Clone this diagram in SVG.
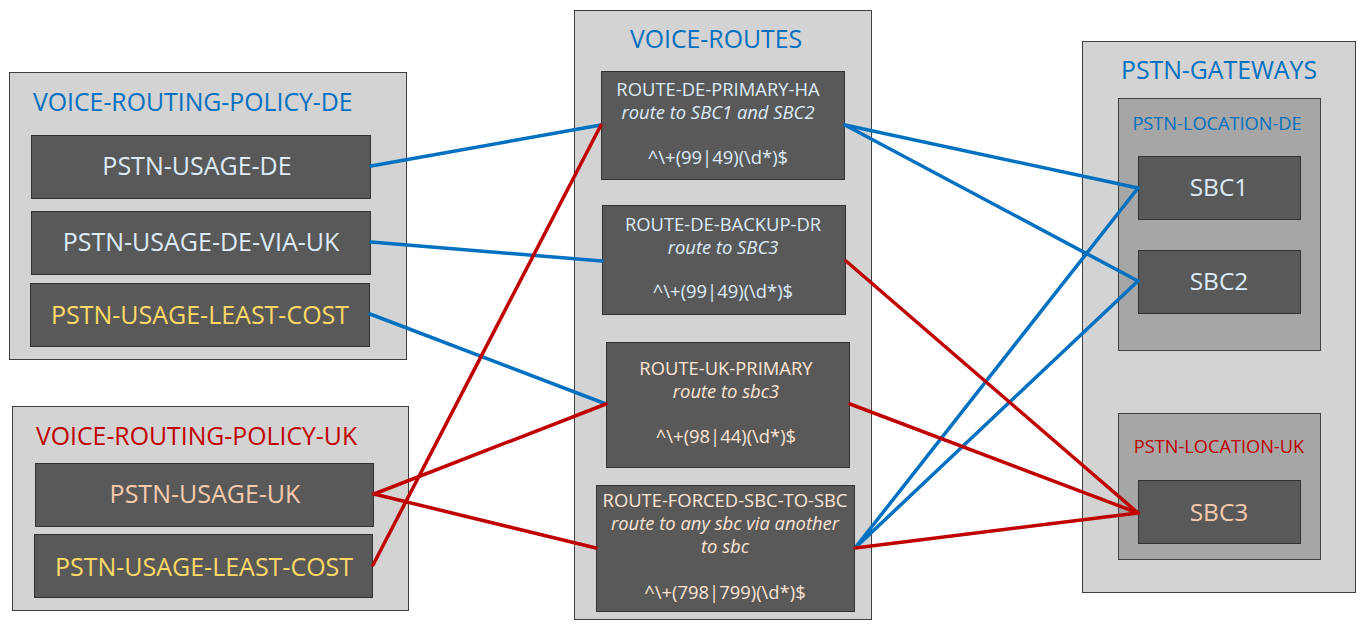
<svg xmlns="http://www.w3.org/2000/svg" width="1368" height="631" viewBox="0 0 1368 631">
<style>
.bg{fill:#ffffff}
.cont{fill:#d3d3d3;stroke:#3f3f3f;stroke-width:1}
.loc{fill:#a6a6a6;stroke:#3f3f3f;stroke-width:1}
.node{fill:#595959;stroke:#333333;stroke-width:1}
text{font-family:"Open Sans","Segoe UI","Noto Sans",sans-serif}
.t24{font-size:25px}
.sbc{font-size:24.5px}
.title{font-size:24.8px}
.rt{font-size:18.4px}
.it{font-style:italic}
.lbl{font-size:18.2px}
.blue{fill:#0070c0}
.red{fill:#c00000}
.lb{fill:#deebf7}
.yl{fill:#ffd966}
.pc{fill:#f8cbad}
.wp{fill:#fbe5d6}
.mid{text-anchor:middle}
.cb{stroke:#0070c0;stroke-width:3.5;fill:none;stroke-linecap:round}
.cr{stroke:#c00000;stroke-width:3.5;fill:none;stroke-linecap:round}
</style>
<rect class="bg" x="0" y="0" width="1368" height="631"/>

<g id="voice-routing-policy-de">
<rect class="cont" x="9.5" y="72.5" width="397" height="287"/>
<text class="title blue" x="33" y="111">VOICE-ROUTING-POLICY-DE</text>
</g>
<g id="pstn-usage-de">
<rect class="node" x="31.5" y="135.5" width="339" height="63"/>
<text class="t24 lb mid" x="197" y="175">PSTN-USAGE-DE</text>
</g>
<g id="pstn-usage-de-via-uk">
<rect class="node" x="31.5" y="211.5" width="339" height="63"/>
<text class="t24 lb mid" x="201" y="251">PSTN-USAGE-DE-VIA-UK</text>
</g>
<g id="pstn-usage-least-cost-de">
<rect class="node" x="30.5" y="283.5" width="339" height="63"/>
<text class="t24 yl mid" x="200" y="324">PSTN-USAGE-LEAST-COST</text>
</g>

<g id="voice-routing-policy-uk">
<rect class="cont" x="12.5" y="406.5" width="396" height="204"/>
<text class="title red" x="36" y="445">VOICE-ROUTING-POLICY-UK</text>
</g>
<g id="pstn-usage-uk">
<rect class="node" x="35.5" y="463.5" width="338" height="63"/>
<text class="t24 pc mid" x="205" y="503">PSTN-USAGE-UK</text>
</g>
<g id="pstn-usage-least-cost-uk">
<rect class="node" x="34.5" y="534.5" width="338" height="63"/>
<text class="t24 yl mid" x="204" y="576">PSTN-USAGE-LEAST-COST</text>
</g>

<g id="voice-routes">
<rect class="cont" x="574.5" y="10.5" width="297" height="609"/>
<text class="title blue mid" x="716" y="48">VOICE-ROUTES</text>
</g>
<g id="route-de-primary-ha">
<rect class="node" x="601.5" y="71.5" width="243" height="108"/>
<text class="rt lb mid" x="718" y="96">ROUTE-DE-PRIMARY-HA</text>
<text class="rt it lb mid" x="718" y="119">route to SBC1 and SBC2</text>
<text class="rt lb mid" x="718" y="164">^\+(99|49)(\d*)$</text>
</g>
<g id="route-de-backup-dr">
<rect class="node" x="602.5" y="205.5" width="243" height="109"/>
<text class="rt lb mid" x="723" y="231">ROUTE-DE-BACKUP-DR</text>
<text class="rt it lb mid" x="723" y="254">route to SBC3</text>
<text class="rt lb mid" x="723" y="298">^\+(99|49)(\d*)$</text>
</g>
<g id="route-uk-primary">
<rect class="node" x="606.5" y="342.5" width="243" height="125"/>
<text class="rt wp mid" x="726" y="375">ROUTE-UK-PRIMARY</text>
<text class="rt it wp mid" x="726" y="398">route to sbc3</text>
<text class="rt wp mid" x="726" y="443">^\+(98|44)(\d*)$</text>
</g>
<g id="route-forced-sbc-to-sbc">
<rect class="node" x="596.5" y="485.5" width="258" height="126"/>
<text class="rt wp mid" x="725" y="507">ROUTE-FORCED-SBC-TO-SBC</text>
<text class="rt it wp mid" x="725" y="530">route to any sbc via another</text>
<text class="rt it wp mid" x="725" y="553">to sbc</text>
<text class="rt wp mid" x="725" y="599">^\+(798|799)(\d*)$</text>
</g>

<g id="pstn-gateways">
<rect class="cont" x="1082.5" y="41.5" width="273" height="551"/>
<text class="title blue mid" x="1219" y="79">PSTN-GATEWAYS</text>
</g>
<g id="pstn-location-de">
<rect class="loc" x="1118.5" y="98.5" width="202" height="252"/>
<text class="lbl blue mid" x="1217" y="130">PSTN-LOCATION-DE</text>
</g>
<g id="sbc1">
<rect class="node" x="1138.5" y="156.5" width="162" height="63"/>
<text class="sbc lb mid" x="1219" y="196">SBC1</text>
</g>
<g id="sbc2">
<rect class="node" x="1138.5" y="250.5" width="162" height="63"/>
<text class="sbc lb mid" x="1219" y="290">SBC2</text>
</g>
<g id="pstn-location-uk">
<rect class="loc" x="1118.5" y="413.5" width="202" height="146"/>
<text class="lbl red mid" x="1219" y="453">PSTN-LOCATION-UK</text>
</g>
<g id="sbc3">
<rect class="node" x="1138.5" y="480.5" width="162" height="63"/>
<text class="sbc pc mid" x="1219" y="521">SBC3</text>
</g>

<g id="connectors">
<line class="cb" x1="371" y1="166" x2="601" y2="125"/>
<line class="cb" x1="371" y1="242" x2="602" y2="261"/>
<line class="cb" x1="370" y1="314" x2="606" y2="404"/>
<line class="cb" x1="845" y1="125" x2="1138" y2="188"/>
<line class="cb" x1="845" y1="125" x2="1138" y2="281"/>
<line class="cb" x1="855" y1="548" x2="1138" y2="188"/>
<line class="cb" x1="855" y1="548" x2="1138" y2="281"/>
<line class="cr" x1="374" y1="494" x2="606" y2="404"/>
<line class="cr" x1="374" y1="494" x2="596" y2="548"/>
<line class="cr" x1="373" y1="565" x2="601" y2="125"/>
<line class="cr" x1="846" y1="261" x2="1138" y2="513"/>
<line class="cr" x1="850" y1="404" x2="1138" y2="513"/>
<line class="cr" x1="855" y1="548" x2="1138" y2="513"/>
</g>
</svg>
